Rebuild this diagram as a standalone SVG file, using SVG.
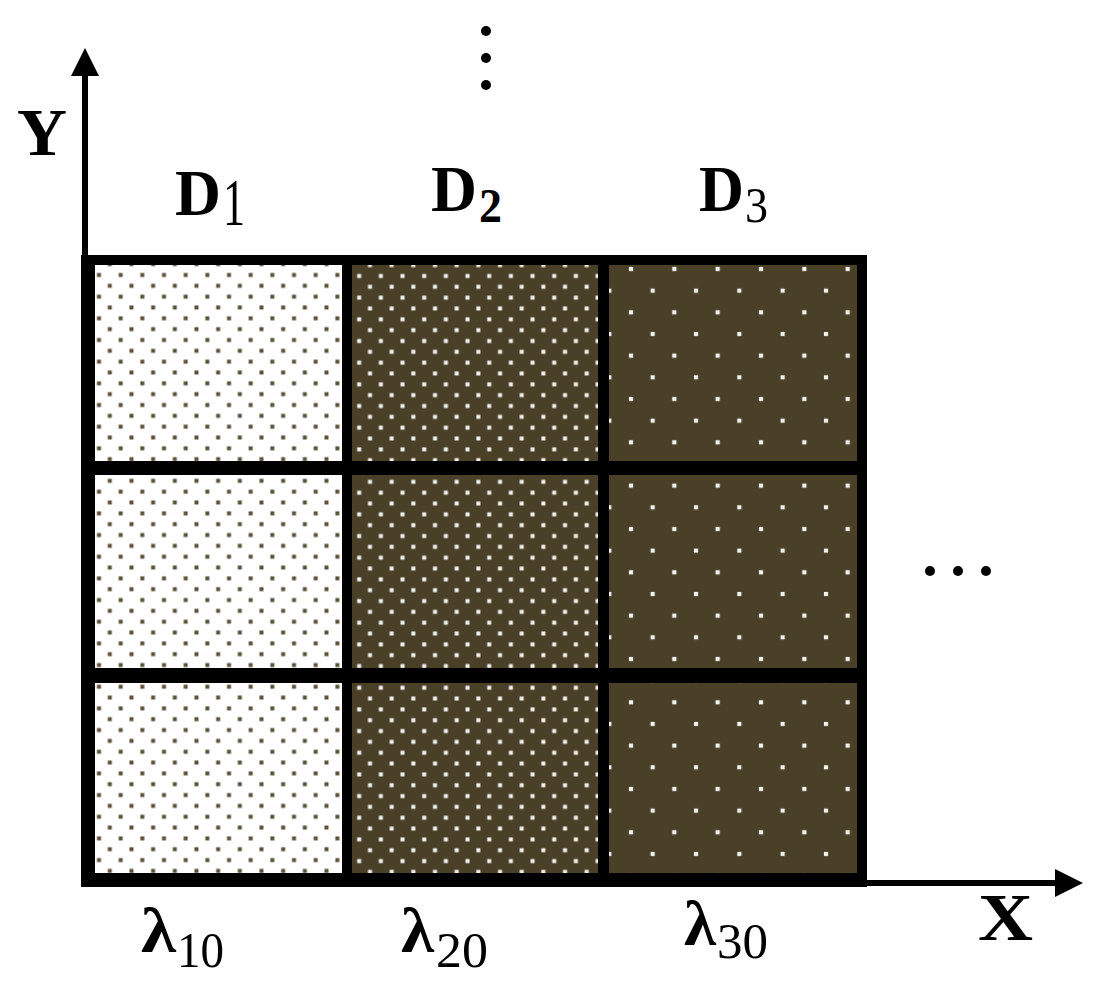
<svg xmlns="http://www.w3.org/2000/svg" width="1095" height="986" viewBox="0 0 1095 986">
<style>
.t{font-family:"Liberation Serif","Times New Roman",serif;fill:#000}
.b{font-weight:bold}
.ax{stroke:#000;stroke-width:6;fill:none}
.dot{fill:#000}
</style>
<defs>
<pattern id="p1" patternUnits="userSpaceOnUse" x="93.6" y="269.6" width="21.67" height="21.67">
<rect width="21.67" height="21.67" fill="#fff"/>
<rect x="3.4" y="3.4" width="4" height="4" fill="#5a5038"/>
<rect x="14.2" y="14.2" width="4" height="4" fill="#5a5038"/>
</pattern>
<pattern id="p2" patternUnits="userSpaceOnUse" x="353.8" y="270.6" width="21.67" height="21.67">
<rect width="21.67" height="21.67" fill="#4a4028"/>
<rect x="3.4" y="3.4" width="4" height="4" fill="#f4f4f0"/>
<rect x="14.2" y="14.2" width="4" height="4" fill="#f4f4f0"/>
</pattern>
<pattern id="p3" patternUnits="userSpaceOnUse" x="609.3" y="247.3" width="43.33" height="43.33">
<rect width="43.33" height="43.33" fill="#4a4028"/>
<rect x="19.6" y="19.6" width="4.2" height="4.2" fill="#f4f4f0"/>
<rect x="41.3" y="41.3" width="4.2" height="4.2" fill="#f4f4f0"/>
<rect x="-2.1" y="-2.1" width="4.2" height="4.2" fill="#f4f4f0"/>
<rect x="41.3" y="-2.1" width="4.2" height="4.2" fill="#f4f4f0"/>
<rect x="-2.1" y="41.3" width="4.2" height="4.2" fill="#f4f4f0"/>
</pattern>
<marker id="ah" markerUnits="userSpaceOnUse" viewBox="0 0 28 28" refX="2" refY="14" markerWidth="28" markerHeight="28" orient="auto">
<path d="M0,0 L28,14 L0,28 Z" fill="#000"/>
</marker>
</defs>
<g id="frame">
<rect x="81" y="255" width="786" height="632" fill="#000"/>
</g>
<g id="cell-1-1"><rect x="95" y="265" width="247" height="196" fill="url(#p1)"/></g>
<g id="cell-2-1"><rect x="95" y="475" width="247" height="193" fill="url(#p1)"/></g>
<g id="cell-3-1"><rect x="95" y="683" width="247" height="190" fill="url(#p1)"/></g>
<g id="cell-1-2"><rect x="352" y="265" width="246" height="196" fill="url(#p2)"/></g>
<g id="cell-2-2"><rect x="352" y="475" width="246" height="193" fill="url(#p2)"/></g>
<g id="cell-3-2"><rect x="352" y="683" width="246" height="190" fill="url(#p2)"/></g>
<g id="cell-1-3"><rect x="609" y="265" width="248" height="196" fill="url(#p3)"/></g>
<g id="cell-2-3"><rect x="609" y="475" width="248" height="193" fill="url(#p3)"/></g>
<g id="cell-3-3"><rect x="609" y="683" width="248" height="190" fill="url(#p3)"/></g>
<g id="connectors">
<line class="ax" x1="85" y1="884" x2="85" y2="74" marker-end="url(#ah)"/>
<line class="ax" x1="82" y1="883" x2="1057" y2="883" marker-end="url(#ah)"/>
</g>
<g id="axis-labels">
<text class="t b" x="17" y="155" font-size="68" textLength="50" lengthAdjust="spacingAndGlyphs">Y</text>
<text class="t b" x="978" y="940" font-size="68" textLength="55" lengthAdjust="spacingAndGlyphs">X</text>
</g>
<g id="label-D1">
<text class="t b" x="175" y="215" font-size="65" textLength="46" lengthAdjust="spacingAndGlyphs">D</text>
<text class="t" x="223" y="225" font-size="68" textLength="22" lengthAdjust="spacingAndGlyphs">1</text>
</g>
<g id="label-D2">
<text class="t b" x="431" y="211" font-size="65" textLength="46" lengthAdjust="spacingAndGlyphs">D</text>
<text class="t b" x="479" y="222" font-size="49" textLength="23" lengthAdjust="spacingAndGlyphs">2</text>
</g>
<g id="label-D3">
<text class="t b" x="699" y="211" font-size="65" textLength="45" lengthAdjust="spacingAndGlyphs">D</text>
<text class="t" x="745" y="222" font-size="51" textLength="23" lengthAdjust="spacingAndGlyphs">3</text>
</g>
<g id="label-l10">
<text class="t b" x="141" y="952" font-size="64" textLength="35" lengthAdjust="spacingAndGlyphs">λ</text>
<text class="t" x="177" y="967" font-size="50" textLength="47" lengthAdjust="spacingAndGlyphs">10</text>
</g>
<g id="label-l20">
<text class="t b" x="401" y="952" font-size="64" textLength="33" lengthAdjust="spacingAndGlyphs">λ</text>
<text class="t" x="436" y="967" font-size="50" textLength="52" lengthAdjust="spacingAndGlyphs">20</text>
</g>
<g id="label-l30">
<text class="t b" x="684" y="945" font-size="64" textLength="32" lengthAdjust="spacingAndGlyphs">λ</text>
<text class="t" x="717" y="958" font-size="50" textLength="51" lengthAdjust="spacingAndGlyphs">30</text>
</g>
<g id="ellipsis-v">
<circle class="dot" cx="486" cy="31" r="5"/>
<circle class="dot" cx="486" cy="58" r="5"/>
<circle class="dot" cx="486" cy="85" r="5"/>
</g>
<g id="ellipsis-h">
<circle class="dot" cx="930" cy="571" r="5"/>
<circle class="dot" cx="958" cy="571" r="5"/>
<circle class="dot" cx="986" cy="571" r="5"/>
</g>
</svg>
